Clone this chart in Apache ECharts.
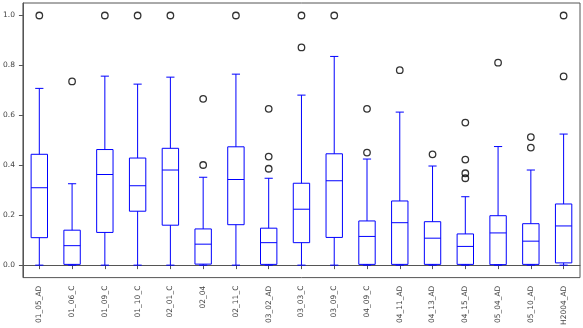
<!DOCTYPE html>
<html>
<head>
<meta charset="utf-8">
<script src="https://cdn.jsdelivr.net/npm/echarts@6/dist/echarts.min.js"></script>
<style>
  html, body { margin: 0; padding: 0; background: #fff; }
  #chart { width: 583px; height: 328px; }
</style>
</head>
<body>
<div id="chart"></div>
<script>
// values
const categories = ['01_05_AD', '01_06_C', '01_09_C', '01_10_C', '02_01_C', '02_04', '02_11_C', '03_02_AD',
  '03_03_C', '03_09_C', '04_09_C', '04_11_AD', '04_13_AD', '04_15_AD', '05_04_AD', '05_10_AD', 'H2004_AD'];
const whiskerLow = [0, 0, 0, 0, 0, 0, 0, 0, 0, 0, 0, 0, 0, 0, 0, 0, 0];
const q1 =     [0.110, 0.003, 0.131, 0.216, 0.160, 0.004, 0.162, 0.003, 0.090, 0.111, 0.003, 0.003, 0.003, 0.003, 0.002, 0.003, 0.009];
const median = [0.310, 0.078, 0.363, 0.318, 0.381, 0.084, 0.343, 0.090, 0.224, 0.338, 0.115, 0.170, 0.108, 0.075, 0.129, 0.096, 0.157];
const q3 =     [0.444, 0.140, 0.463, 0.429, 0.468, 0.145, 0.474, 0.148, 0.328, 0.446, 0.177, 0.257, 0.174, 0.125, 0.198, 0.166, 0.245];
const whiskerHigh = [0.708, 0.326, 0.757, 0.725, 0.753, 0.352, 0.765, 0.348, 0.681, 0.836, 0.425, 0.613, 0.397, 0.274, 0.475, 0.381, 0.525];
// [category index, value]
const outliers = [
  [0, 1.0], [1, 0.736], [2, 1.0], [3, 1.0], [4, 1.0],
  [5, 0.666], [5, 0.401], [6, 1.0],
  [7, 0.626], [7, 0.435], [7, 0.386],
  [8, 1.0], [8, 0.872], [9, 1.0],
  [10, 0.626], [10, 0.451], [11, 0.781], [12, 0.444],
  [13, 0.571], [13, 0.423], [13, 0.368], [13, 0.348],
  [14, 0.811], [15, 0.513], [15, 0.471], [16, 1.0], [16, 0.756]
];
const yTicks = [0, 0.2, 0.4, 0.6, 0.8, 1.0];

const boxData = categories.map((c, i) => [i, whiskerLow[i], q1[i], median[i], q3[i], whiskerHigh[i]]);
const blue = '#0000ff';
const font = 'DejaVu Sans';

function renderBox(params, api) {
  const x = api.value(0);
  const pLow = api.coord([x, api.value(1)]);
  const pQ1 = api.coord([x, api.value(2)]);
  const pMed = api.coord([x, api.value(3)]);
  const pQ3 = api.coord([x, api.value(4)]);
  const pHigh = api.coord([x, api.value(5)]);
  const band = api.size([1, 0])[0];
  const hw = band * 0.25;
  const cw = band * 0.125;
  const cx = pMed[0];
  const st = { stroke: blue, lineWidth: 1, fill: null };
  const line = (x1, y1, x2, y2) => ({ type: 'line', shape: { x1, y1, x2, y2 }, style: st });
  return {
    type: 'group',
    children: [
      { type: 'rect', shape: { x: cx - hw, y: pQ3[1], width: hw * 2, height: pQ1[1] - pQ3[1] }, style: st },
      line(cx - hw, pMed[1], cx + hw, pMed[1]),
      line(cx, pQ3[1], cx, pHigh[1]),
      line(cx, pQ1[1], cx, pLow[1]),
      line(cx - cw, pHigh[1], cx + cw, pHigh[1]),
      line(cx - cw, pLow[1], cx + cw, pLow[1])
    ]
  };
}

const chart = echarts.init(document.getElementById('chart'));
chart.setOption({
  animation: false,
  textStyle: { fontFamily: font },
  grid: { left: 22, right: 3, top: 3, bottom: 48, show: true, borderColor: '#555', borderWidth: 1 },
  xAxis: {
    type: 'category',
    data: categories,
    boundaryGap: true,
    axisLine: { show: true, lineStyle: { color: '#555' } },
    axisTick: { show: true, alignWithLabel: true, length: 4, lineStyle: { color: '#555' } },
    axisLabel: { rotate: 90, interval: 0, fontSize: 7.5, color: '#444', margin: 8, fontFamily: font },
    splitLine: { show: false }
  },
  yAxis: {
    type: 'value',
    min: -0.05,
    max: 1.05,
    axisLine: { show: true, lineStyle: { color: '#555' } },
    axisTick: { show: true, length: 4, customValues: yTicks, lineStyle: { color: '#555' } },
    axisLabel: { customValues: yTicks, fontSize: 7.5, color: '#444', margin: 8, fontFamily: font,
      formatter: v => v.toFixed(1) },
    splitLine: { show: false }
  },
  series: [
    {
      type: 'custom',
      data: boxData,
      encode: { x: 0, y: [1, 2, 3, 4, 5] },
      renderItem: renderBox
    },
    {
      type: 'scatter',
      data: outliers,
      symbol: 'circle',
      symbolSize: 6.5,
      itemStyle: { color: 'rgba(0,0,0,0)', borderColor: '#000', borderWidth: 1.3 }
    }
  ]
});
</script>
</body>
</html>
